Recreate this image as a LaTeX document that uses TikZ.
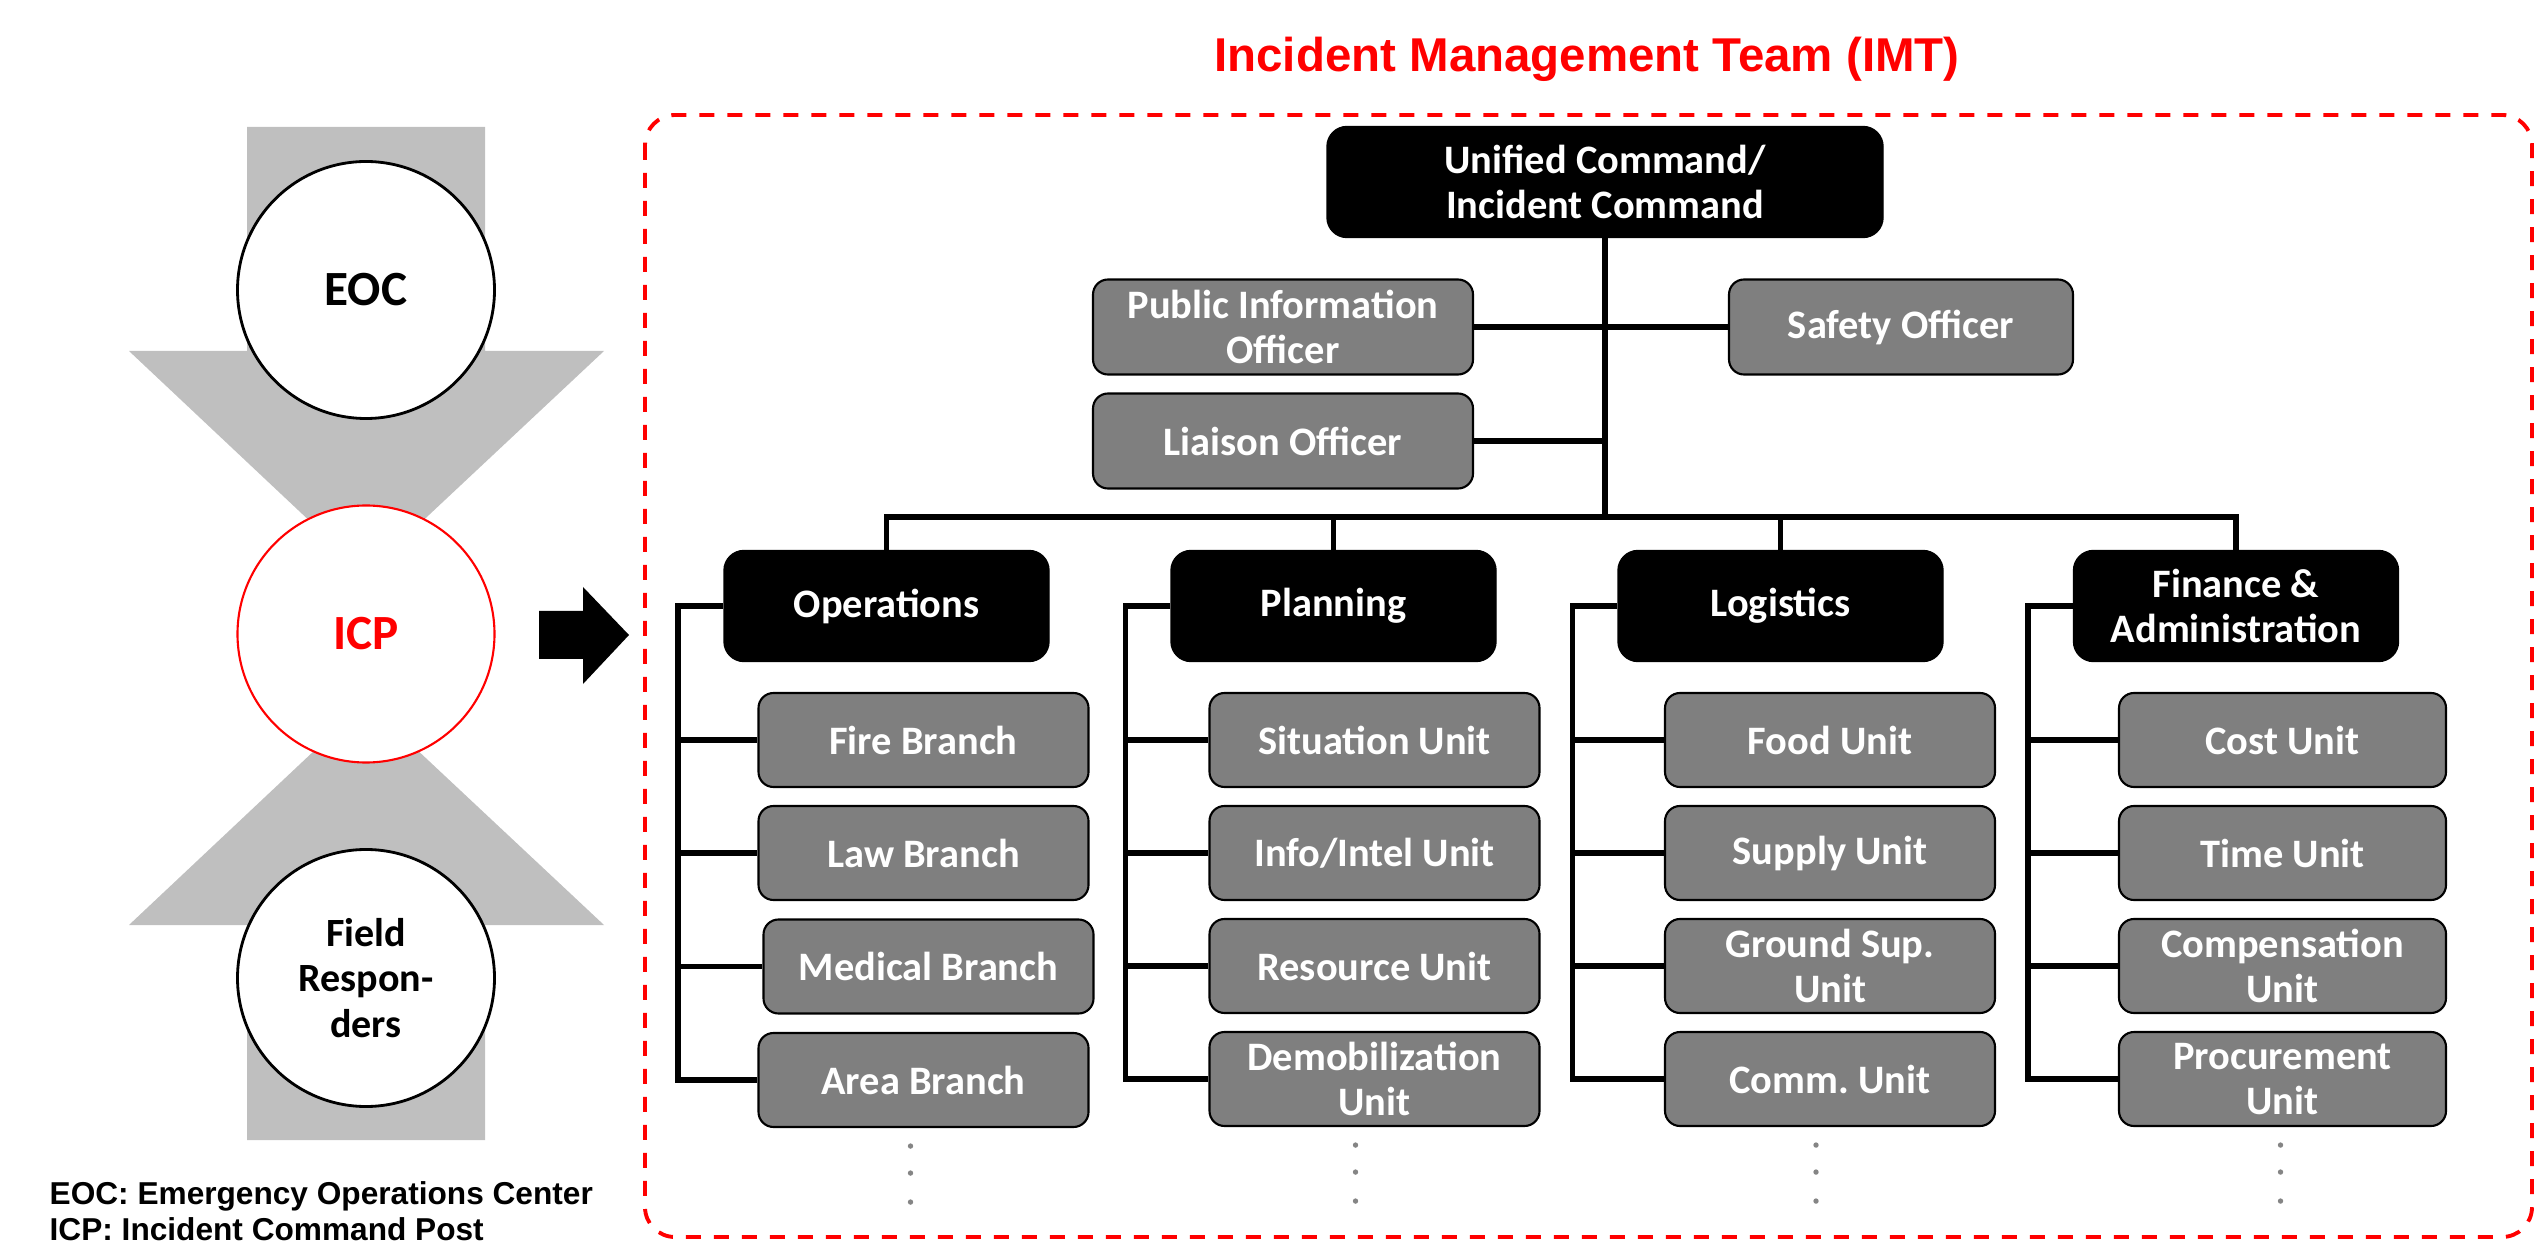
\documentclass[tikz,border=0pt]{standalone}
\usepackage{fontspec}
\setmainfont{Carlito}
\newfontfamily\arialfont{Liberation Sans}
\usetikzlibrary{positioning}
\definecolor{arrowgray}{HTML}{BFBFBF}
\definecolor{unitgray}{HTML}{7F7F7F}
\definecolor{dotgray}{HTML}{858585}
\definecolor{imtred}{HTML}{FF0000}

\begin{document}
\begin{tikzpicture}[on grid,node distance=1.13cm,
	head/.style={draw=black,fill=black,text=white,rounded corners=0.2cm,minimum width=3.25cm,minimum height=1.11cm,inner sep=0pt,align=center,font=\fontsize{11.5}{13}\selectfont\bfseries},
	unit/.style={draw=black,line width=0.6pt,fill=unitgray,text=white,rounded corners=0.15cm,minimum width=3.3cm,minimum height=0.94cm,inner sep=0pt,align=center,font=\fontsize{11.5}{13}\selectfont\bfseries},
	post/.style={circle,draw=black,line width=0.8pt,fill=white,minimum size=2.57cm,inner sep=0pt,align=center,font=\fontsize{14}{16}\selectfont\bfseries},
	conn/.style={line width=1.6pt}]
		\useasboundingbox (0,0) rectangle (25.35,-12.45);
		% left: EOC / ICP / field
		\fill[arrowgray] (2.47,-1.27) -- (4.85,-1.27) -- (4.85,-3.51) -- (6.04,-3.51) -- (3.66,-5.74) -- (1.29,-3.51) -- (2.47,-3.51) -- cycle;
		\fill[arrowgray] (2.47,-11.40) -- (4.85,-11.40) -- (4.85,-9.25) -- (6.04,-9.25) -- (3.66,-7.02) -- (1.29,-9.25) -- (2.47,-9.25) -- cycle;
		\node[post](eoc) at (3.66,-2.90) {EOC};
		\node[post,draw=imtred,line width=0.6pt,text=imtred](icp)[below=3.44cm of eoc] {ICP};
		\node[post,font=\fontsize{11.4}{13}\selectfont\bfseries](field)[below=3.44cm of icp] {Field\\Respon-\\ders};
		\fill (5.39,-6.11) -- (5.83,-6.11) -- (5.83,-5.87) -- (6.29,-6.35) -- (5.83,-6.84) -- (5.83,-6.59) -- (5.39,-6.59) -- cycle;
		\node[anchor=west,align=left,inner sep=0pt,font=\arialfont\fontsize{9}{10.2}\selectfont\bfseries](legend) at (0.49,-12.11) {EOC: Emergency Operations Center\\ICP: Incident Command Post};
		% IMT frame
		\node[anchor=base,text=imtred,inner sep=0pt,font=\arialfont\fontsize{13.5}{16}\selectfont\bfseries](title) at (15.87,-0.72) {Incident Management Team (IMT)};
		\draw[imtred,line width=1.1pt,dash pattern=on 0.15cm off 0.13cm,rounded corners=0.3cm] (6.45,-1.15) rectangle (25.32,-12.37);
		% command staff
		\node[head,minimum width=5.56cm](uc) at (16.05,-1.82) {Unified Command/\\Incident Command};
		\node[unit,minimum width=3.8cm,minimum height=0.95cm](pio) at (12.83,-3.27) {Public Information\\Officer};
		\node[unit,minimum width=3.44cm,minimum height=0.95cm](safety) at (19.01,-3.27) {Safety Officer};
		\node[unit,minimum width=3.8cm,minimum height=0.95cm](liaison)[below=1.14cm of pio] {Liaison Officer};
		\coordinate (hub) at (16.05,-5.17);
		% sections
		\node[head](ops) at (8.865,-6.06) {Operations};
		\node[head](plan)[right=4.47cm of ops] {Planning};
		\node[head](log)[right=4.47cm of plan] {Logistics};
		\node[head](fin)[right=4.555cm of log] {Finance \&\\Administration};
		% units
		\node[unit](fire) at (9.235,-7.40) {Fire Branch};
		\node[unit](law)[below=of fire] {Law Branch};
		\node[unit](medical)[below right=1.135cm and 0.05cm of law] {Medical Branch};
		\node[unit](area)[below left=1.135cm and 0.05cm of medical] {Area Branch};
		\node[unit](situation) at (13.745,-7.40) {Situation Unit};
		\node[unit](intel)[below=of situation] {Info/Intel Unit};
		\node[unit](resource)[below=of intel] {Resource Unit};
		\node[unit](demob)[below=of resource] {Demobilization\\Unit};
		\node[unit](food) at (18.30,-7.40) {Food Unit};
		\node[unit](supply)[below=of food] {Supply Unit};
		\node[unit](ground)[below=of supply] {Ground Sup.\\Unit};
		\node[unit](comm)[below=of ground] {Comm.\ Unit};
		\node[unit,minimum width=3.27cm](cost) at (22.825,-7.40) {Cost Unit};
		\node[unit,minimum width=3.27cm](time)[below=of cost] {Time Unit};
		\node[unit,minimum width=3.27cm](comp)[below=of time] {Compensation\\Unit};
		\node[unit,minimum width=3.27cm](proc)[below=of comp] {Procurement\\Unit};
		% lines
		\draw[conn] (uc.south) -- (hub);
		\draw[conn] (ops.north) |- (hub) -| (fin.north);
		\draw[conn] (plan.north) -- (plan.north |- hub);
		\draw[conn] (log.north) -- (log.north |- hub);
		\draw[conn] (pio.east) -- (safety.west);
		\draw[conn] (liaison.east) -- (liaison.east -| hub);
		\foreach \h/\a/\b/\c/\d in {ops/fire/law/medical/area,plan/situation/intel/resource/demob,log/food/supply/ground/comm,fin/cost/time/comp/proc}{
			\draw[conn] (\h.west) -- ++(-0.45,0) |- (\d.west);
			\foreach \u in {\a,\b,\c}
				\draw[conn] (\h.west) ++(-0.45,0) |- (\u.west);
		}
		% more units below
		\foreach \u/\dx in {area/-0.13,demob/-0.19,comm/-0.14,proc/-0.02}
			\foreach \dy in {0.18,0.45,0.74}
				\fill[dotgray] ([xshift=\dx cm,yshift=-\dy cm]\u.south) circle (0.027);
\end{tikzpicture}
\end{document}
